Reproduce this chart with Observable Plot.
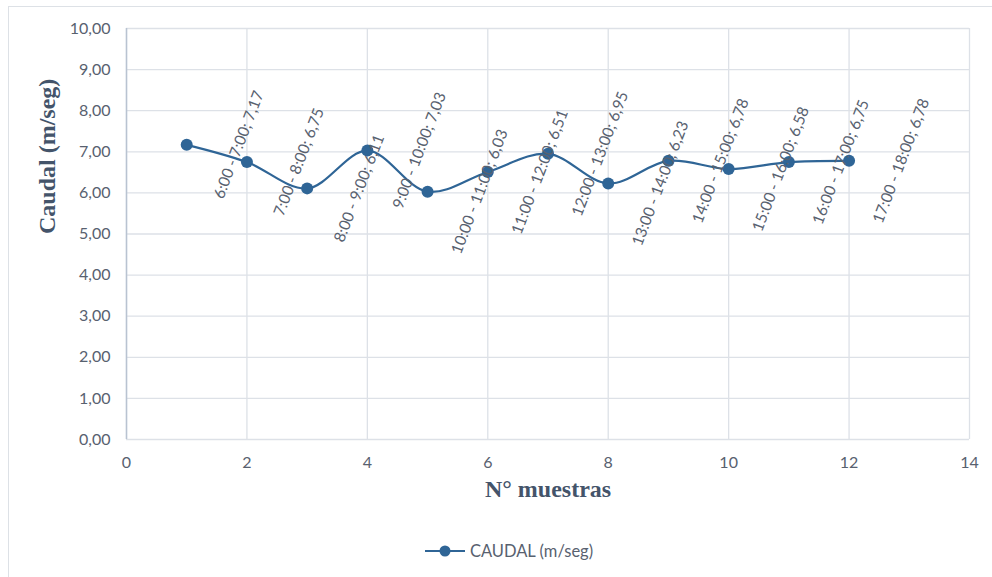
<!DOCTYPE html>
<html>
<head>
<meta charset="utf-8">
<script src="https://cdn.jsdelivr.net/npm/d3@7"></script>
<script src="https://cdn.jsdelivr.net/npm/@observablehq/plot@0.6"></script>
<style>
  html, body { margin: 0; padding: 0; background: #fff; }
  #wrap { position: relative; width: 992px; height: 577px; overflow: hidden; background: #fff; }
  #frame { position: absolute; left: 8px; top: 6px; width: 1000px; height: 700px; border: 1.5px solid #dde1e6; box-sizing: border-box; }
  #chart { position: absolute; left: 0; top: 0; }
  #legend { position: absolute; left: 0; top: 541px; width: 1018px; display: flex; justify-content: center; align-items: center;
            font-family: Lato, "Open Sans", sans-serif; font-size: 16.5px; color: #58616f; }
  #legend svg { margin-right: 5px; }
</style>
</head>
<body>
<div id="wrap">
  <div id="frame"></div>
  <div id="chart"></div>
  <div id="legend"></div>
</div>
<script>
// Sample number (x) and measured flow (y)
const muestras = [1, 2, 3, 4, 5, 6, 7, 8, 9, 10, 11, 12];
const caudal = [7.17, 6.75, 6.11, 7.03, 6.03, 6.51, 6.95, 6.23, 6.78, 6.58, 6.75, 6.78];
const horarios = [
  "6:00 - 7:00", "7:00 - 8:00", "8:00 - 9:00", "9:00 - 10:00",
  "10:00 - 11:00", "11:00 - 12:00", "12:00 - 13:00", "13:00 - 14:00",
  "14:00 - 15:00", "15:00 - 16:00", "16:00 - 17:00", "17:00 - 18:00"
];
const xTicks = [0, 2, 4, 6, 8, 10, 12, 14];
const yTicks = [0, 1, 2, 3, 4, 5, 6, 7, 8, 9, 10];
const serieNombre = "CAUDAL (m/seg)";

const es = d3.formatLocale({decimal: ",", thousands: ".", grouping: [3], currency: ["", "€"]});
const fmt2 = es.format(".2f");

const rows = muestras.map((n, i) => ({n, v: caudal[i], label: `${horarios[i]}; ${fmt2(caudal[i])}`}));

const azul = "#2f6596";
const gris = "#58616f";
const titulo = "#44546a";
const fontTicks = "Lato, 'Open Sans', sans-serif";
const fontTitle = "'Liberation Serif', 'Times New Roman', serif";

const chart = Plot.plot({
  width: 992,
  height: 577,
  marginLeft: 126,
  marginRight: 23,
  marginTop: 28,
  marginBottom: 138,
  style: {fontFamily: fontTicks, fontSize: "16px", color: gris, background: "transparent"},
  x: {domain: [0, 14]},
  y: {domain: [0, 10]},
  marks: [
    Plot.gridX(xTicks, {stroke: "#dde1e7", strokeOpacity: 1, strokeWidth: 1.3}),
    Plot.gridY(yTicks, {stroke: "#dde1e7", strokeOpacity: 1, strokeWidth: 1.3}),
    Plot.ruleX([0], {stroke: "#b9c3d1", strokeWidth: 1.5}),
    Plot.axisX({ticks: xTicks, tickSize: 0, tickPadding: 17, label: null, tickFormat: d => es.format("d")(d), fill: gris}),
    Plot.axisY({ticks: yTicks, tickSize: 0, tickPadding: 16, label: null, tickFormat: fmt2, fill: gris}),
    Plot.line(rows, {x: "n", y: "v", curve: "catmull-rom", stroke: azul, strokeWidth: 2.2}),
    Plot.dot(rows, {x: "n", y: "v", r: 6, fill: azul, stroke: "none"}),
    Plot.text(rows, {x: d => d.n + 1, y: "v", text: "label", rotate: -69, dx: -8, fill: gris, fontSize: 15.5}),
    Plot.text(["N° muestras"], {frameAnchor: "bottom", dy: 57, fontFamily: fontTitle, fontWeight: "bold", fontSize: 24, fill: titulo}),
    Plot.text(["Caudal (m/seg)"], {frameAnchor: "left", rotate: -90, dx: -79, fontFamily: fontTitle, fontWeight: "bold", fontSize: 24, fill: titulo})
  ]
});
document.getElementById("chart").appendChild(chart);

// Legend entry: line with marker followed by series name
const legend = d3.select("#legend");
const sw = legend.append("svg").attr("width", 40).attr("height", 14);
sw.append("line").attr("x1", 0).attr("x2", 40).attr("y1", 7).attr("y2", 7).attr("stroke", azul).attr("stroke-width", 2.2);
sw.append("circle").attr("cx", 20).attr("cy", 7).attr("r", 5.5).attr("fill", azul);
legend.append("span").text(serieNombre);
</script>
</body>
</html>
